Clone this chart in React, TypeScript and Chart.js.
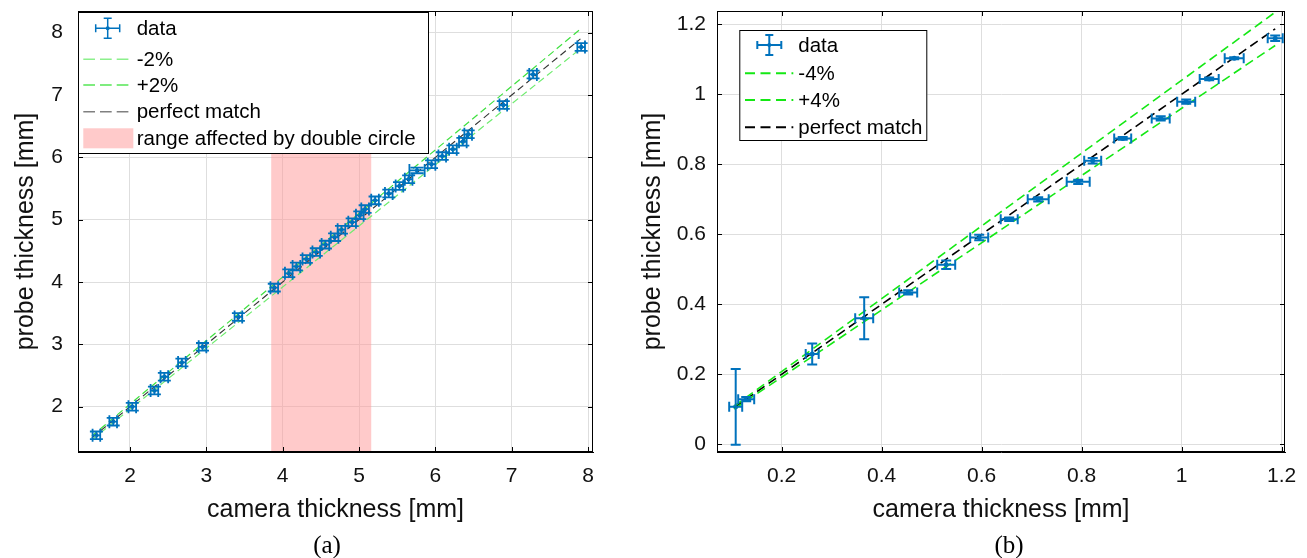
import React, { useEffect, useRef } from "react";
import { Chart, registerables } from "chart.js";
Chart.register(...registerables);

// ---------------- Panel (a) data ----------------
const aCamera = [1.56, 1.78, 2.03, 2.32, 2.45, 2.68, 2.95, 3.42, 3.89, 4.08, 4.18, 4.31, 4.44, 4.56, 4.68, 4.77, 4.91, 5.01, 5.08, 5.21, 5.39, 5.53, 5.65, 5.76, 5.95, 6.09, 6.23, 6.36, 6.43, 6.89, 7.28, 7.91];
const aProbe = [1.54, 1.76, 2.0, 2.26, 2.48, 2.71, 2.96, 3.44, 3.91, 4.14, 4.25, 4.37, 4.48, 4.6, 4.72, 4.84, 4.96, 5.07, 5.17, 5.31, 5.42, 5.54, 5.65, 5.79, 5.89, 6.02, 6.13, 6.25, 6.37, 6.84, 7.33, 7.77];
const aCameraErr = [0.05, 0.05, 0.05, 0.05, 0.05, 0.05, 0.05, 0.05, 0.05, 0.05, 0.05, 0.05, 0.05, 0.05, 0.05, 0.05, 0.05, 0.05, 0.05, 0.05, 0.05, 0.05, 0.05, 0.1, 0.05, 0.05, 0.05, 0.05, 0.05, 0.05, 0.05, 0.05];
const aProbeErr = [0.062, 0.062, 0.062, 0.062, 0.062, 0.062, 0.062, 0.062, 0.062, 0.062, 0.062, 0.062, 0.062, 0.062, 0.062, 0.062, 0.062, 0.062, 0.062, 0.062, 0.062, 0.062, 0.062, 0.045, 0.062, 0.062, 0.062, 0.062, 0.062, 0.062, 0.062, 0.062];
const aLineX = [1.5, 7.9];
const aPerfect = [1.5, 7.9];
const aMinus2 = [1.47, 7.742];
const aPlus2 = [1.53, 8.058];
const aShade = [3.85, 5.16];
const aXTicks = [2, 3, 4, 5, 6, 7, 8];
const aYTicks = [2, 3, 4, 5, 6, 7, 8];
const aLabels = ["data", "-2%", "+2%", "perfect match", "range affected by double circle"];

// ---------------- Panel (b) data ----------------
const bCamera = [0.108, 0.129, 0.261, 0.365, 0.453, 0.529, 0.595, 0.655, 0.713, 0.793, 0.822, 0.882, 0.958, 1.009, 1.055, 1.105, 1.187];
const bProbe = [0.107, 0.129, 0.258, 0.36, 0.434, 0.513, 0.591, 0.643, 0.7, 0.75, 0.81, 0.874, 0.931, 0.979, 1.044, 1.103, 1.16];
const bCameraErr = [0.013, 0.016, 0.013, 0.018, 0.018, 0.018, 0.018, 0.017, 0.021, 0.023, 0.017, 0.017, 0.018, 0.018, 0.019, 0.019, 0.015];
const bProbeErr = [0.108, 0.006, 0.03, 0.06, 0.006, 0.012, 0.008, 0.005, 0.006, 0.006, 0.008, 0.004, 0.006, 0.006, 0.004, 0.003, 0.008];
const bLineX = [0.105, 1.187];
const bPerfect = [0.105, 1.187];
const bMinus4 = [0.1008, 1.1395];
const bPlus4 = [0.1092, 1.2345];
const bXTicks = [0.2, 0.4, 0.6, 0.8, 1, 1.2];
const bYTicks = [0, 0.2, 0.4, 0.6, 0.8, 1, 1.2];
const bLabels = ["data", "-4%", "+4%", "perfect match"];

const BLUE = "#0072BD";
const FONT = "'Liberation Sans', Arial, Helvetica, sans-serif";
const GRID = "#dedede";

function pts(xs: number[], ys: number[]) {
  return xs.map((x, i) => ({ x, y: ys[i] }));
}

function errorBarPlugin(xs: number[], ys: number[], xe: number[], ye: number[], lw: number, cap: number) {
  return {
    id: "errbars",
    afterDatasetsDraw(chart: any) {
      const { ctx, scales } = chart;
      const sx = scales.x, sy = scales.y;
      ctx.save();
      ctx.strokeStyle = BLUE;
      ctx.lineWidth = lw;
      ctx.beginPath();
      for (let i = 0; i < xs.length; i++) {
        const px = sx.getPixelForValue(xs[i]);
        const py = sy.getPixelForValue(ys[i]);
        const x0 = sx.getPixelForValue(xs[i] - xe[i]);
        const x1 = sx.getPixelForValue(xs[i] + xe[i]);
        const y0 = sy.getPixelForValue(ys[i] - ye[i]);
        const y1 = sy.getPixelForValue(ys[i] + ye[i]);
        ctx.moveTo(x0, py); ctx.lineTo(x1, py);
        ctx.moveTo(x0, py - cap); ctx.lineTo(x0, py + cap);
        ctx.moveTo(x1, py - cap); ctx.lineTo(x1, py + cap);
        ctx.moveTo(px, y0); ctx.lineTo(px, y1);
        ctx.moveTo(px - cap, y0); ctx.lineTo(px + cap, y0);
        ctx.moveTo(px - cap, y1); ctx.lineTo(px + cap, y1);
      }
      ctx.stroke();
      ctx.restore();
    },
  };
}

function shadePlugin(range: number[] | null) {
  return {
    id: "shade",
    beforeDatasetsDraw(chart: any) {
      if (!range) return;
      const { ctx, chartArea, scales } = chart;
      const x0 = scales.x.getPixelForValue(range[0]);
      const x1 = scales.x.getPixelForValue(range[1]);
      ctx.save();
      ctx.fillStyle = "rgba(255,150,150,0.5)";
      ctx.fillRect(x0, chartArea.top, x1 - x0, chartArea.bottom - chartArea.top);
      ctx.restore();
    },
  };
}

function framePlugin() {
  return {
    id: "frame",
    afterDraw(chart: any) {
      const { ctx, chartArea, scales } = chart;
      const { left, right, top, bottom } = chartArea;
      ctx.save();
      ctx.strokeStyle = "#000";
      ctx.lineWidth = 1;
      ctx.strokeRect(left + 0.5, top + 0.5, right - left - 1, bottom - top - 1);
      ctx.beginPath();
      const L = 5;
      for (const t of scales.x.ticks) {
        const p = Math.round(scales.x.getPixelForValue(t.value)) + 0.5;
        ctx.moveTo(p, bottom); ctx.lineTo(p, bottom - L);
        ctx.moveTo(p, top); ctx.lineTo(p, top + L);
      }
      for (const t of scales.y.ticks) {
        const p = Math.round(scales.y.getPixelForValue(t.value)) + 0.5;
        ctx.moveTo(left, p); ctx.lineTo(left + L, p);
        ctx.moveTo(right, p); ctx.lineTo(right - L, p);
      }
      ctx.stroke();
      ctx.restore();
    },
  };
}

type LegendRow = { label: string; kind: "err" | "line" | "patch"; color: string; dy: number; dash?: number[] };
type LegendCfg = {
  dx: number; dy: number; w: number; h: number; textX: number; lineX0: number; lineX1: number;
  iconX: number; lw: number; dash: number[]; fontSize: number; rows: LegendRow[];
};

function legendPlugin(cfg: LegendCfg) {
  return {
    id: "customLegend",
    afterDraw(chart: any) {
      const { ctx, chartArea } = chart;
      const bx = chartArea.left + cfg.dx;
      const by = chartArea.top + cfg.dy;
      ctx.save();
      ctx.fillStyle = "#fff";
      ctx.fillRect(bx, by, cfg.w, cfg.h);
      ctx.strokeStyle = "#000";
      ctx.lineWidth = 1;
      ctx.strokeRect(bx + 0.5, by + 0.5, cfg.w - 1, cfg.h - 1);
      ctx.font = `${cfg.fontSize}px ${FONT}`;
      ctx.textBaseline = "middle";
      ctx.textAlign = "left";
      for (const r of cfg.rows) {
        const y = by + r.dy;
        if (r.kind === "err") {
          const cx = bx + cfg.iconX;
          ctx.strokeStyle = r.color;
          ctx.lineWidth = cfg.lw;
          ctx.beginPath();
          ctx.moveTo(cx - 12, y); ctx.lineTo(cx + 12, y);
          ctx.moveTo(cx - 12, y - 4); ctx.lineTo(cx - 12, y + 4);
          ctx.moveTo(cx + 12, y - 4); ctx.lineTo(cx + 12, y + 4);
          ctx.moveTo(cx, y - 10); ctx.lineTo(cx, y + 10);
          ctx.moveTo(cx - 4, y - 10); ctx.lineTo(cx + 4, y - 10);
          ctx.moveTo(cx - 4, y + 10); ctx.lineTo(cx + 4, y + 10);
          ctx.stroke();
          ctx.fillStyle = r.color;
          ctx.beginPath();
          ctx.arc(cx, y, 2, 0, Math.PI * 2);
          ctx.fill();
        } else if (r.kind === "line") {
          ctx.strokeStyle = r.color;
          ctx.lineWidth = cfg.lw;
          ctx.setLineDash(r.dash || cfg.dash);
          ctx.beginPath();
          ctx.moveTo(bx + cfg.lineX0, y);
          ctx.lineTo(bx + cfg.lineX1, y);
          ctx.stroke();
          ctx.setLineDash([]);
        } else {
          ctx.fillStyle = r.color;
          ctx.fillRect(bx + cfg.lineX0, y - 10, cfg.lineX1 - cfg.lineX0, 20);
        }
        ctx.fillStyle = "#000";
        ctx.fillText(r.label, bx + cfg.textX, y + 1);
      }
      ctx.restore();
    },
  };
}

type PanelProps = {
  width: number; height: number; padRight: number; yAxisWidth: number; xAxisHeight: number; padBottom: number;
  xMin: number; xMax: number; yMin: number; yMax: number; xTicks: number[]; yTicks: number[];
  yTickPad: number; yTitlePad: number;
  datasets: any[]; plugins: any[];
};

function Panel(p: PanelProps) {
  const ref = useRef<HTMLCanvasElement | null>(null);
  useEffect(() => {
    if (!ref.current) return;
    const tickFont = { family: FONT, size: 21 };
    const titleFont = { family: FONT, size: 25 };
    const chart = new Chart(ref.current, {
      type: "scatter",
      data: { datasets: p.datasets },
      options: {
        animation: false,
        responsive: false,
        maintainAspectRatio: false,
        layout: { padding: { left: 0, top: 11, right: p.padRight, bottom: p.padBottom } },
        plugins: { legend: { display: false }, tooltip: { enabled: false } },
        scales: {
          x: {
            type: "linear",
            min: p.xMin,
            max: p.xMax,
            afterBuildTicks: (s: any) => { s.ticks = p.xTicks.map((v) => ({ value: v })); },
            afterFit: (s: any) => { s.height = p.xAxisHeight; s.paddingLeft = 0; s.paddingRight = 0; s.paddingTop = 0; s.paddingBottom = 0; },
            grid: { color: GRID, drawTicks: false, lineWidth: 1 },
            border: { display: true, color: "#000" },
            ticks: { padding: 12, font: tickFont, color: "#111", autoSkip: false, maxRotation: 0, callback: (v: any) => String(v) },
            title: { display: true, text: "camera thickness [mm]", font: titleFont, color: "#111", padding: { top: 0, bottom: 0 } },
          },
          y: {
            type: "linear",
            min: p.yMin,
            max: p.yMax,
            afterBuildTicks: (s: any) => { s.ticks = p.yTicks.map((v) => ({ value: v })); },
            afterFit: (s: any) => { s.width = p.yAxisWidth; s.paddingLeft = 0; s.paddingRight = 0; s.paddingTop = 0; s.paddingBottom = 0; },
            grid: { color: GRID, drawTicks: false, lineWidth: 1 },
            border: { display: true, color: "#000" },
            ticks: { padding: p.yTickPad, font: tickFont, color: "#111", autoSkip: false, callback: (v: any) => String(v) },
            title: { display: true, text: "probe thickness [mm]", font: titleFont, color: "#111", padding: { top: p.yTitlePad, bottom: 0 } },
          },
        },
      } as any,
      plugins: p.plugins,
    });
    return () => chart.destroy();
  }, []);
  return <canvas ref={ref} width={p.width} height={p.height} style={{ width: p.width, height: p.height, display: "block" }} />;
}

export default function App() {
  const dsA = [
    { label: aLabels[1], data: pts(aLineX, aMinus2), showLine: true, pointRadius: 0, borderColor: "#6fec6f", borderWidth: 1.2, borderDash: [7, 4] },
    { label: aLabels[2], data: pts(aLineX, aPlus2), showLine: true, pointRadius: 0, borderColor: "#3fe03f", borderWidth: 1.2, borderDash: [7, 4] },
    { label: aLabels[3], data: pts(aLineX, aPerfect), showLine: true, pointRadius: 0, borderColor: "#333", borderWidth: 1.1, borderDash: [7, 4] },
    { label: aLabels[0], data: pts(aCamera, aProbe), showLine: false, pointRadius: 2.2, backgroundColor: BLUE, borderColor: BLUE, borderWidth: 0 },
  ];
  const legA: LegendCfg = {
    dx: 0, dy: 1, w: 351, h: 142, textX: 58.7, lineX0: 5.3, lineX1: 55.3, iconX: 29.7, lw: 1.5, dash: [11.7, 5], fontSize: 20.5,
    rows: [
      { label: aLabels[0], kind: "err", color: BLUE, dy: 16.3 },
      { label: aLabels[1], kind: "line", color: "#8cf08c", dy: 47.3 },
      { label: aLabels[2], kind: "line", color: "#55e655", dy: 73 },
      { label: aLabels[3], kind: "line", color: "#808080", dy: 99.7 },
      { label: aLabels[4], kind: "patch", color: "rgba(255,150,150,0.5)", dy: 126.3 },
    ],
  };
  const dsB = [
    { label: bLabels[1], data: pts(bLineX, bMinus4), showLine: true, pointRadius: 0, borderColor: "#14e814", borderWidth: 1.6, borderDash: [9, 5] },
    { label: bLabels[2], data: pts(bLineX, bPlus4), showLine: true, pointRadius: 0, borderColor: "#14e814", borderWidth: 1.6, borderDash: [9, 5] },
    { label: bLabels[3], data: pts(bLineX, bPerfect), showLine: true, pointRadius: 0, borderColor: "#000", borderWidth: 1.6, borderDash: [9, 5] },
    { label: bLabels[0], data: pts(bCamera, bProbe), showLine: false, pointRadius: 2.5, backgroundColor: BLUE, borderColor: BLUE, borderWidth: 0 },
  ];
  const legB: LegendCfg = {
    dx: 22.3, dy: 19, w: 188, h: 111, textX: 59, lineX0: 5.7, lineX1: 54, iconX: 30, lw: 2, dash: [10, 5.5], fontSize: 20.5,
    rows: [
      { label: bLabels[0], kind: "err", color: BLUE, dy: 15 },
      { label: bLabels[1], kind: "line", color: "#14e814", dy: 43.3 },
      { label: bLabels[2], kind: "line", color: "#14e814", dy: 70 },
      { label: bLabels[3], kind: "line", color: "#000", dy: 97.3 },
    ],
  };
  const caption: React.CSSProperties = {
    position: "absolute", width: 120, textAlign: "center", fontFamily: "'Liberation Serif', 'Times New Roman', serif",
    fontSize: 25, lineHeight: "30px", top: 530, color: "#000",
  };
  return (
    <div style={{ position: "absolute", left: 0, top: 0, width: 1307, height: 558, background: "#fff", overflow: "hidden" }}>
      <div style={{ position: "absolute", left: 0, top: 0 }}>
        <Panel
          width={620} height={558} padRight={27} yAxisWidth={78} xAxisHeight={73} padBottom={33}
          xMin={1.319} xMax={8.065} yMin={1.273} yMax={8.348} xTicks={aXTicks} yTicks={aYTicks}
          yTickPad={15} yTitlePad={11}
          datasets={dsA}
          plugins={[shadePlugin(aShade), errorBarPlugin(aCamera, aProbe, aCameraErr, aProbeErr, 1.8, 6.5), framePlugin(), legendPlugin(legA)]}
        />
      </div>
      <div style={{ position: "absolute", left: 620, top: 0 }}>
        <Panel
          width={687} height={558} padRight={22} yAxisWidth={97} xAxisHeight={73} padBottom={33}
          xMin={0.0706} xMax={1.2066} yMin={-0.022} yMax={1.238} xTicks={bXTicks} yTicks={bYTicks}
          yTickPad={11} yTitlePad={18}
          datasets={dsB}
          plugins={[shadePlugin(null), errorBarPlugin(bCamera, bProbe, bCameraErr, bProbeErr, 2, 5), framePlugin(), legendPlugin(legB)]}
        />
      </div>
      <div style={{ ...caption, left: 327 - 60 }}>(a)</div>
      <div style={{ ...caption, left: 1009 - 60 }}>(b)</div>
    </div>
  );
}
